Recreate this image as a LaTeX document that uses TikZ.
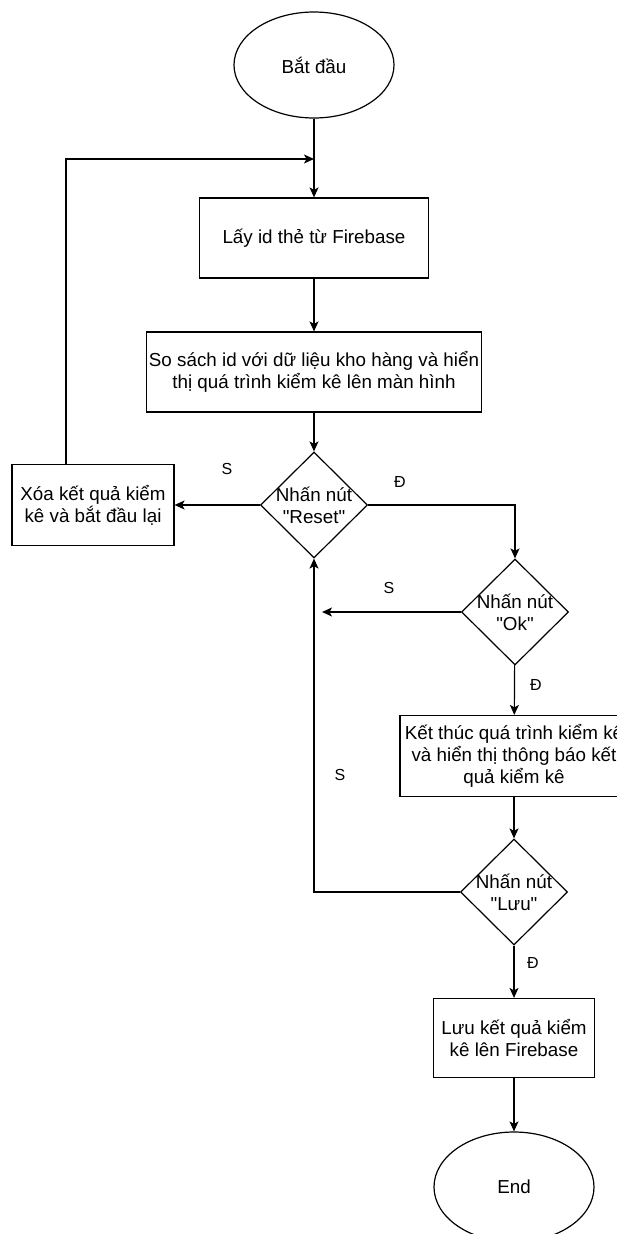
\documentclass[tikz,border=0pt]{standalone}
\usepackage{fontspec}
\setmainfont{Liberation Sans}[Ligatures=TeXOff]
\usetikzlibrary{shapes.geometric,arrows.meta}

\tikzset{
  flow/.style={line width=1.2pt, -{Stealth[length=10pt,width=9pt,inset=2.5pt]}},
  terminal/.style={ellipse, draw, line width=1.2pt, minimum width=160, minimum height=106, inner sep=0pt},
  process/.style={rectangle, draw, line width=1.2pt, align=center, inner sep=0pt},
  decision/.style={diamond, draw, line width=1.2pt, minimum width=107, minimum height=106, inner sep=0pt},
  answer/.style={font=\fontsize{16}{19}\selectfont},
}

\begin{document}
\begin{tikzpicture}[x=1pt, y=-1pt, font=\fontsize{18.8}{21.8}\selectfont]
  \useasboundingbox[fill=white] (0,0) rectangle (616,1234);

  % Main column
  \node[terminal] (start) at (314,65) {Bắt đầu};
  \coordinate (loop) at (314,159);
  \node[process, minimum width=229, minimum height=80] (fetch) at (314,238) {Lấy id thẻ từ Firebase};
  \node[process, minimum width=335, minimum height=80] (compare) at (314,372)
    {So sách id với dữ liệu kho hàng và hiển\\thị quá trình kiểm kê lên màn hình};
  \node[decision, label={[align=center]center:Nhấn nút\\"Reset"}] (reset) at (314,505) {};
  \node[process, minimum width=162, minimum height=81] (clear) at (93,505)
    {Xóa kết quả kiểm\\kê và bắt đầu lại};
  \coordinate (cleartop) at (66,465);

  % Right column
  \node[decision, label={[align=center]center:Nhấn nút\\"Ok"}] (ok) at (515,612) {};
  \coordinate (okback) at (322,612);
  \node[process, minimum width=228, minimum height=81] (finish) at (514,756)
    {Kết thúc quá trình kiểm kê\\và hiển thị thông báo kết\\quả kiểm kê};
  \node[decision, label={[align=center]center:Nhấn nút\\"Lưu"}] (save) at (514,892) {};
  \node[process, minimum width=161, minimum height=79] (store) at (514,1038)
    {Lưu kết quả kiểm\\kê lên Firebase};
  \node[terminal, minimum height=110] (end) at (514,1187) {End};

  % Connectors
  \draw[flow] (start) -- (fetch);
  \draw[flow] (cleartop) |- (loop);
  \draw[flow] (fetch) -- (compare);
  \draw[flow] (compare) -- (reset);
  \draw[flow] (reset) -- (clear);
  \draw[flow] (reset.east) -| (ok.north);
  \draw[flow] (ok.west) -- (okback);
  \draw[flow] (ok) -- (finish);
  \draw[flow] (finish) -- (save);
  \draw[flow] (save.west) -| (reset.south);
  \draw[flow] (save) -- (store);
  \draw[flow] (store) -- (end);

  % Branch labels
  \node[answer] (s1) at (227,469) {S};
  \node[answer] (d1) at (400,482) {Đ};
  \node[answer] (s2) at (389,588) {S};
  \node[answer] (d2) at (536,685) {Đ};
  \node[answer] (s3) at (340,775) {S};
  \node[answer] (d3) at (533,963) {Đ};
\end{tikzpicture}
\end{document}
